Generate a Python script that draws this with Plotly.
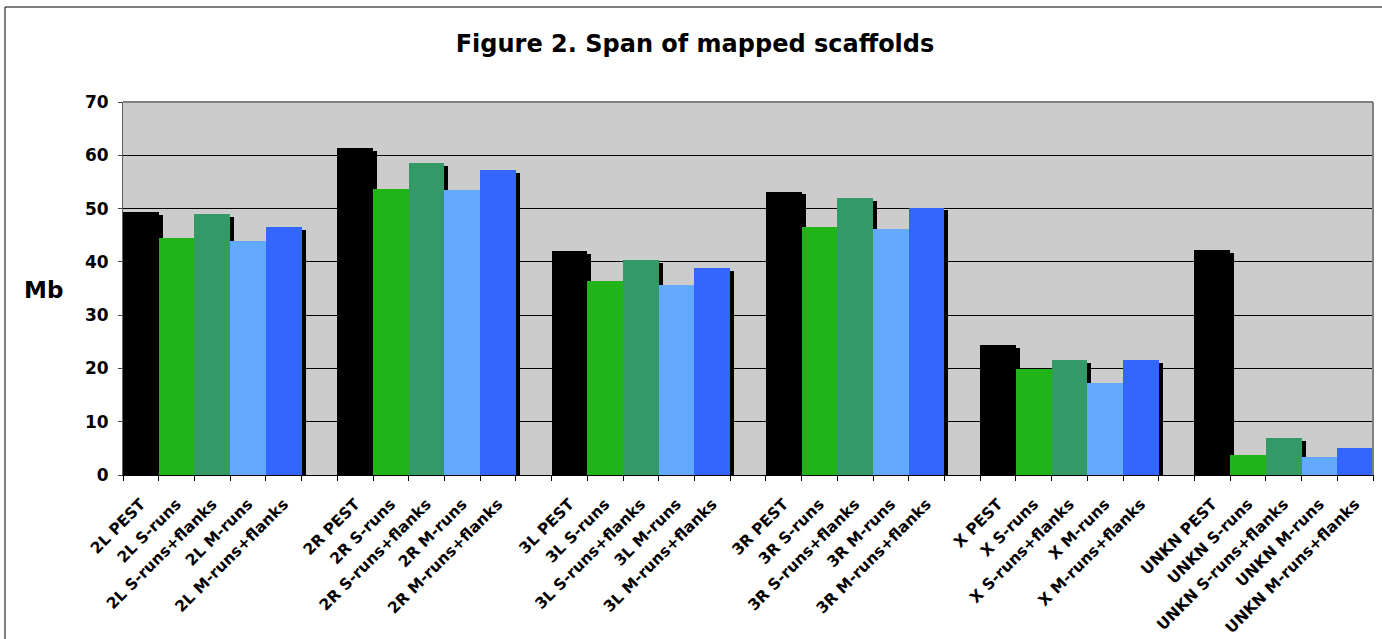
import plotly.graph_objects as go

groups = ["2L", "2R", "3L", "3R", "X", "UNKN"]
run_types = ["PEST", "S-runs", "S-runs+flanks", "M-runs", "M-runs+flanks"]
colors = ["#000000", "#20B418", "#339966", "#63A9FF", "#3366FF"]

vals_2L = [49.3, 44.5, 49.0, 43.9, 46.6]
vals_2R = [61.4, 53.7, 58.6, 53.5, 57.3]
vals_3L = [42.0, 36.4, 40.4, 35.7, 38.9]
vals_3R = [53.2, 46.6, 51.9, 46.2, 50.2]
vals_X = [24.4, 19.8, 21.5, 17.2, 21.5]
vals_UNKN = [42.2, 3.8, 7.0, 3.4, 5.1]
all_vals = [vals_2L, vals_2R, vals_3L, vals_3R, vals_X, vals_UNKN]

# build categories (one empty slot between groups)
cats, ys, cols = [], [], []
for gi, (g, vals) in enumerate(zip(groups, all_vals)):
    if gi > 0:
        cats.append(" " * gi)
        ys.append(None)
        cols.append("#000000")
    for t, v, c in zip(run_types, vals, colors):
        cats.append(f"{g} {t}")
        ys.append(v)
        cols.append(c)

SHADOW_DX = 0.11
SHADOW_DY = 0.55
shadow_y = [None if v is None else v - SHADOW_DY for v in ys]

fig = go.Figure()
fig.add_trace(go.Bar(x=cats, y=shadow_y, marker=dict(color="#000000", line=dict(width=0)),
                     width=1, offset=-0.5 + SHADOW_DX, hoverinfo="skip", showlegend=False))
fig.add_trace(go.Bar(x=cats, y=ys, marker=dict(color=cols, line=dict(width=0)),
                     width=1, offset=-0.5, showlegend=False))

W, H = 1382, 639
L, R, T, B = 123, 9, 102, 164
pw, ph = W - L - R, H - T - B

fig.update_layout(
    width=W, height=H,
    margin=dict(l=L, r=R, t=T, b=B, autoexpand=False),
    paper_bgcolor="white", plot_bgcolor="#CCCCCC",
    barmode="overlay", bargap=0,
    font=dict(family="DejaVu Sans", color="black"),
    title=dict(text="<b>Figure 2. Span of mapped scaffolds</b>", x=695 / W, xanchor="center",
               xref="container", y=1 - 44 / H, yanchor="middle", yref="container",
               font=dict(size=24, family="DejaVu Sans", color="black")),
    xaxis=dict(type="category", categoryorder="array", categoryarray=cats,
               range=[-0.5, len(cats) - 0.5], tickson="boundaries",
               ticks="outside", ticklen=5, tickcolor="black", tickwidth=1,
               showline=True, linecolor="black", linewidth=1, showgrid=False,
               tickangle=-45, ticklabelstandoff=13,
               tickfont=dict(size=15.5, family="DejaVu Sans", color="black"),
               tickprefix="<b>", ticksuffix="</b>"),
    yaxis=dict(range=[0, 70], dtick=10, ticks="outside", ticklen=4, tickcolor="#404040",
               showline=True, linecolor="#606060", linewidth=1, mirror=True,
               showgrid=True, gridcolor="black", gridwidth=1, zeroline=False,
               ticklabelstandoff=6,
               tickfont=dict(size=17, family="DejaVu Sans", color="black"),
               tickprefix="<b>", ticksuffix="</b>"),
)

fig.add_annotation(text="<b>Mb</b>", xref="paper", yref="paper",
                   x=(44 - L) / pw, y=(H - B - 290) / ph, showarrow=False,
                   xanchor="center", yanchor="middle",
                   font=dict(size=23, family="DejaVu Sans", color="black"))

# top/right border of plot area (gray) and outer chart border
fig.add_shape(type="line", xref="paper", yref="paper", x0=0, x1=1, y0=1, y1=1,
              line=dict(color="#808080", width=2), layer="above")
fig.add_shape(type="line", xref="paper", yref="paper", x0=1, x1=1, y0=0, y1=1,
              line=dict(color="#808080", width=2), layer="above")
fig.add_shape(type="rect", xref="paper", yref="paper",
              x0=(5 - L) / pw, x1=(W + 10 - L) / pw,
              y0=(H - B - (H + 10)) / ph, y1=(H - B - 7) / ph,
              line=dict(color="black", width=1), fillcolor="rgba(0,0,0,0)", layer="below")

fig.write_html("out.html", config={"displayModeBar": False},
               post_script="document.body.style.margin='0';document.body.style.overflow='hidden';")
